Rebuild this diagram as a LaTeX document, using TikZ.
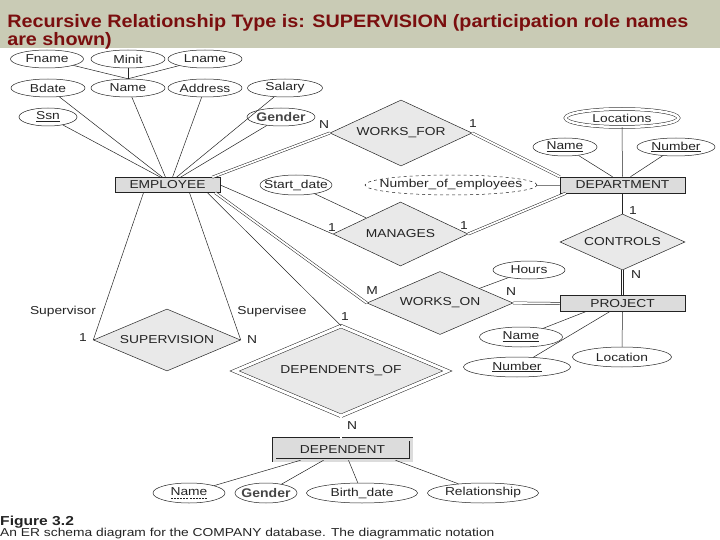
\documentclass[tikz,border=0pt]{standalone}
\usepackage{fontspec}
\setmainfont{Liberation Sans}[FakeStretch=1.2]
\newfontfamily\titlefont{Liberation Sans}[FakeStretch=1.1]
\newfontfamily\genderfont{Liberation Sans}[FakeStretch=1.12]
\usetikzlibrary{shapes.geometric}
\definecolor{bandgreen}{RGB}{201,203,181}
\definecolor{titlered}{RGB}{122,14,14}
\definecolor{entgray}{RGB}{220,220,220}
\definecolor{relgray}{RGB}{233,233,233}
\definecolor{inkgray}{RGB}{35,35,35}
\definecolor{gendergray}{RGB}{70,70,70}
\newcommand{\dashul}[1]{\setbox0\hbox{#1}\rlap{\lower2.5pt\hbox to\wd0{\xleaders\hbox to 3pt{\hss\vrule width 2pt height 0.4pt\hss}\hfill}}\box0}
\begin{document}
\begin{tikzpicture}[x=1pt,y=-1pt,line width=0.5pt,color=inkgray,
  every node/.style={font=\fontsize{11.5}{13}\selectfont},
  attr/.style={draw,ellipse,inner xsep=-12pt,inner ysep=0pt,minimum height=18pt},
  ent/.style={draw,fill=entgray,rectangle,inner sep=0pt,minimum width=125pt,minimum height=16pt},
  rel/.style={draw,fill=relgray,diamond,aspect=2.2,inner sep=0pt},
  tot/.style={double,double distance=1.8pt},
  card/.style={inner sep=0pt},
  gfont/.style={font=\genderfont\bfseries\fontsize{12.5}{14}\selectfont,text=gendergray}]
\useasboundingbox (0,0) rectangle (720,540);
\fill[bandgreen] (0,0) rectangle (720,48);
\node[anchor=north west,align=left,inner sep=0pt,text=titlered,font=\titlefont\bfseries\fontsize{18}{16}\selectfont] (title) at (7,14)
  {Recursive Relationship Type is: SUPERVISION (participation role names\\are shown)};
% EMPLOYEE and its attributes
\node[attr,minimum width=73pt] (fname) at (47,59) {Fname};
\node[attr,minimum width=74pt] (minit) at (128,59) {Minit};
\node[attr,minimum width=74pt] (lname) at (205,59) {Lname};
\node[attr,minimum width=74pt] (bdate) at (48,88) {Bdate};
\node[attr,minimum width=74pt] (name) at (128,88) {Name};
\node[attr,minimum width=74pt] (address) at (205,88) {Address};
\node[attr,minimum width=75pt] (salary) at (285,88) {Salary};
\node[attr,minimum width=58pt] (ssn) at (48,117) {\underline{Ssn}};
\node[attr,gfont,minimum width=68pt] (gender) at (281,117) {Gender};
\node[ent,minimum width=105pt,minimum height=15pt] (employee) at (167.5,185) {EMPLOYEE};
% relationships
\node[rel,minimum width=142pt,minimum height=66pt] (worksfor) at (401,133) {WORKS\_FOR};
\node[rel,minimum width=135pt,minimum height=64pt] (manages) at (400.5,234) {MANAGES};
\node[rel,minimum width=125pt,minimum height=56pt] (controls) at (622.5,242) {CONTROLS};
\node[rel,minimum width=146pt,minimum height=63pt] (workson) at (440,303) {WORKS\_ON};
\node[rel,minimum width=147pt,minimum height=62pt] (supervision) at (167,340) {SUPERVISION};
\node[rel,double=white,double distance=3pt,minimum width=213pt,minimum height=90pt] (dependentsof) at (341,371) {DEPENDENTS\_OF};
% DEPARTMENT
\node[ent] (department) at (622.5,185) {DEPARTMENT};
\node[attr,double,double distance=2.5pt,minimum width=113pt] (locations) at (622,118) {Locations};
\node[attr,minimum width=64pt] (dname) at (565,147) {\underline{Name}};
\node[attr,minimum width=78pt] (dnumber) at (676,147) {\underline{Number}};
\node[attr,dashed,minimum width=172pt,minimum height=20pt] (numemp) at (451,185) {Number\_of\_employees};
\node[attr,minimum width=72pt,minimum height=20pt] (startdate) at (296,185) {Start\_date};
% PROJECT
\node[ent] (project) at (622.5,303.5) {PROJECT};
\node[attr,minimum width=72pt] (hours) at (529,270) {Hours};
\node[attr,minimum width=83pt,minimum height=20pt] (pname) at (521,337) {\underline{Name}};
\node[attr,minimum width=107pt,minimum height=20pt] (pnumber) at (517,367) {\underline{Number}};
\node[attr,minimum width=99pt,minimum height=20pt] (plocation) at (622,357) {Location};
% DEPENDENT
\node[ent,double=entgray,double distance=3pt,minimum width=137pt,minimum height=21pt] (dependent) at (342.5,449.5) {DEPENDENT};
\node[attr,minimum width=72pt,minimum height=20pt] (depname) at (189,493) {\dashul{Name}};
\node[attr,gfont,minimum width=62pt,minimum height=20pt] (depgender) at (266,493) {Gender};
\node[attr,minimum width=111pt,minimum height=20pt] (birthdate) at (362,493) {Birth\_date};
\node[attr,minimum width=111pt,minimum height=20pt] (relationship) at (483,493) {Relationship};
% attribute links
\draw (fname) -- (name.north);
\draw (minit) -- (name.north);
\draw (lname) -- (name.north);
\draw (ssn) -- ([xshift=-7pt]employee.north);
\draw (bdate) -- ([xshift=-5pt]employee.north);
\draw (name) -- ([xshift=-2pt]employee.north);
\draw (address) -- ([xshift=5pt]employee.north);
\draw (salary) -- ([xshift=9pt]employee.north);
\draw (gender) -- ([xshift=13pt]employee.north);
\draw (locations.south) -- (department.north);
\draw (dname) -- ([xshift=-10pt]department.north);
\draw (dnumber) -- ([xshift=8pt]department.north);
\draw[gray] (numemp) -- (department);
\draw (startdate) -- (manages);
\draw (hours) -- (workson);
\draw (pname) -- ([xshift=-37pt]project.south);
\draw (pnumber) -- ([xshift=-13pt]project.south);
\draw (plocation.north) -- (project.south);
\draw ([xshift=-42pt]dependent.south) -- (depname);
\draw ([xshift=-19pt]dependent.south) -- (depgender);
\draw ([xshift=6pt]dependent.south) -- (birthdate);
\draw ([xshift=53pt]dependent.south) -- (relationship);
% relationship links
\draw[tot] ([xshift=-8pt]employee.north east) -- (worksfor.west);
\draw[tot] (worksfor.east) -- (department.north west);
\draw (employee.east) -- (manages.west);
\draw[tot] (manages.east) -- ([xshift=6pt]department.south west);
\draw (department) -- (controls);
\draw[tot] (controls) -- (project);
\draw[tot] ([xshift=-5pt]employee.south east) -- (workson.west);
\draw[tot] (workson.east) -- (project.west);
\draw ([xshift=-24pt]employee.south) -- (supervision.west);
\draw ([xshift=22pt]employee.south) -- (supervision.east);
\draw ([xshift=40pt]employee.south) -- (dependentsof.north);
\draw[tot] (dependentsof.south) -- (dependentsof.south |- dependent.north);
% cardinalities and roles
\node[card] (cwf1) at (324,125) {N};
\node[card] (cwf2) at (473,124) {1};
\node[card] (cmg1) at (332,228) {1};
\node[card] (cmg2) at (464,226) {1};
\node[card] (cct1) at (633,211) {1};
\node[card] (cct2) at (636,275) {N};
\node[card] (cwo1) at (372,291) {M};
\node[card] (cwo2) at (511,292) {N};
\node[card] (rsup) at (63,312) {Supervisor};
\node[card] (rsub) at (272,312) {Supervisee};
\node[card] (csv1) at (83,338) {1};
\node[card] (csv2) at (252,340) {N};
\node[card] (cdo1) at (345,317) {1};
\node[card] (cdo2) at (352,426) {N};
% caption
\node[anchor=base west,inner sep=0pt,font=\bfseries\fontsize{13}{15}\selectfont] (figno) at (0,525) {Figure 3.2};
\node[anchor=base west,inner sep=0pt] (figtext) at (0,536.5) {An ER schema diagram for the COMPANY database. The diagrammatic notation};
\end{tikzpicture}
\end{document}
